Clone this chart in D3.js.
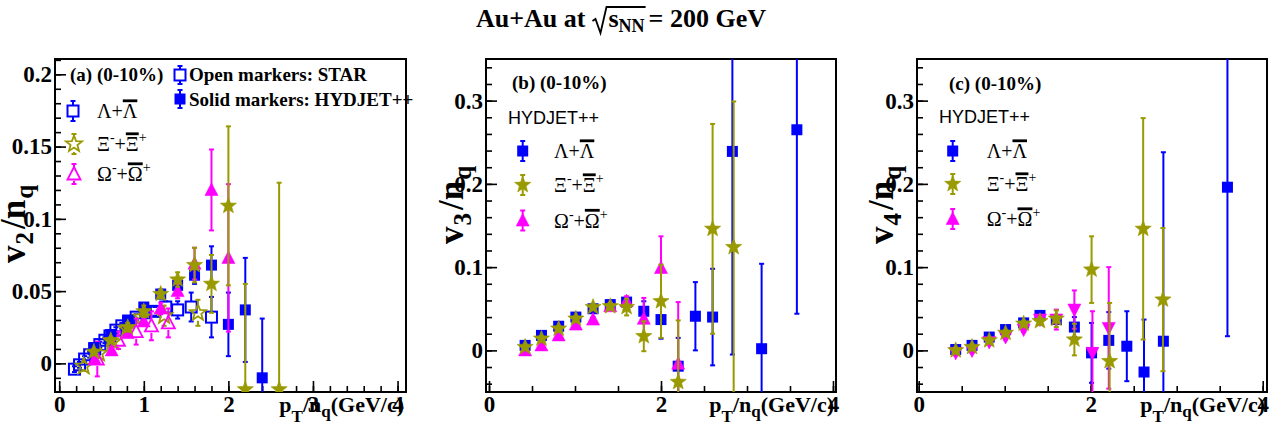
<!DOCTYPE html>
<meta charset="utf-8">
<style>
  body { margin: 0; background: #fff; }
</style>
<body>
<script src="https://d3js.org/d3.v7.min.js"></script>
<script>
  // ---- data: [pT/nq, v_n/nq, error] ----
  // (a) v2, STAR (open markers)
  var v2LamStar = [[0.18,-0.004,0.002],[0.24,-0.001,0.002],[0.30,0.003,0.002],[0.36,0.006,0.002],[0.42,0.010,0.002],
                   [0.48,0.013,0.002],[0.54,0.016,0.002],[0.60,0.019,0.002],[0.67,0.023,0.002],[0.74,0.026,0.002],
                   [0.82,0.029,0.002],[0.91,0.032,0.002],[1.02,0.035,0.003],[1.13,0.036,0.003],[1.26,0.039,0.004],
                   [1.40,0.037,0.006],[1.56,0.039,0.010],[1.80,0.032,0.014]];
  var v2XiStar  = [[0.29,-0.002,0.003],[0.47,0.007,0.003],[0.63,0.015,0.003],[0.80,0.024,0.004],[0.97,0.032,0.005],
                   [1.24,0.033,0.007],[1.64,0.035,0.009]];
  var v2OmStar  = [[0.45,0.003,0.012],[0.70,0.016,0.006],[0.91,0.022,0.009],[1.09,0.026,0.010],[1.29,0.028,0.010]];
  // (a) v2, HYDJET++ (solid markers)
  var v2LamHyd = [[0.41,0.011,0.002],[0.61,0.020,0.002],[0.81,0.030,0.002],[1.00,0.039,0.002],[1.20,0.048,0.003],
                  [1.40,0.054,0.004],[1.60,0.061,0.006],[1.80,0.068,0.013],[2.00,0.027,0.022],[2.20,0.037,0.036],
                  [2.40,-0.010,0.041]];
  var v2XiHyd  = [[0.41,0.008,0.002],[0.61,0.016,0.002],[0.81,0.025,0.003],[1.00,0.036,0.004],[1.20,0.048,0.003],
                  [1.40,0.058,0.005],[1.60,0.068,0.012],[1.80,0.055,0.020],[2.00,0.109,0.055],[2.20,-0.018,0.073],
                  [2.60,-0.018,0.143]];
  var v2OmHyd  = [[0.42,0.003,0.003],[0.62,0.009,0.002],[0.81,0.021,0.002],[1.00,0.029,0.003],[1.20,0.038,0.004],
                  [1.40,0.050,0.005],[1.60,0.069,0.011],[1.80,0.120,0.028],[2.00,0.073,0.051]];
  // (b) v3, HYDJET++
  var v3LamHyd = [[0.42,0.006,0.003],[0.61,0.018,0.003],[0.81,0.029,0.003],[1.01,0.040,0.003],[1.21,0.050,0.003],
                  [1.41,0.055,0.004],[1.60,0.058,0.005],[1.80,0.047,0.012],[2.00,0.037,0.023],[2.20,-0.019,0.034],
                  [2.40,0.041,0.041],[2.60,0.040,0.058],[2.83,0.239,0.244],[3.17,0.002,0.102],[3.58,0.265,0.221]];
  var v3XiHyd  = [[0.42,0.004,0.003],[0.61,0.014,0.003],[0.81,0.026,0.003],[1.01,0.038,0.003],[1.21,0.052,0.003],
                  [1.41,0.053,0.004],[1.60,0.052,0.010],[1.80,0.017,0.018],[2.00,0.059,0.044],[2.20,-0.038,0.074],
                  [2.60,0.146,0.126],[2.845,0.124,0.175]];
  var v3OmHyd  = [[0.42,0.000,0.003],[0.61,0.006,0.003],[0.81,0.018,0.003],[1.01,0.031,0.003],[1.21,0.037,0.003],
                  [1.41,0.053,0.004],[1.60,0.059,0.006],[1.80,0.038,0.025],[2.00,0.099,0.038],[2.20,-0.016,0.074]];
  // (c) v4, HYDJET++
  var v4LamHyd = [[0.43,0.001,0.003],[0.62,0.006,0.003],[0.82,0.016,0.003],[1.01,0.025,0.003],[1.22,0.033,0.003],
                  [1.41,0.042,0.003],[1.60,0.037,0.005],[1.81,0.028,0.012],[2.01,-0.003,0.036],[2.21,0.012,0.034],
                  [2.42,0.005,0.042],[2.62,-0.026,0.063],[2.845,0.011,0.227],[3.59,0.196,0.179]];
  var v4XiHyd  = [[0.43,0.000,0.003],[0.62,0.004,0.003],[0.82,0.012,0.003],[1.01,0.021,0.003],[1.22,0.032,0.003],
                  [1.41,0.035,0.004],[1.60,0.038,0.010],[1.81,0.013,0.019],[2.01,0.097,0.040],[2.22,-0.013,0.070],
                  [2.61,0.146,0.133],[2.84,0.061,0.086]];
  var v4OmHyd  = [[0.43,-0.003,0.003],[0.62,0.000,0.003],[0.82,0.010,0.003],[1.01,0.016,0.003],[1.22,0.025,0.003],
                  [1.41,0.037,0.003],[1.60,0.037,0.012],[1.81,0.049,0.023],[2.02,-0.003,0.050],[2.21,0.027,0.073]];

  // tick labels
  var v2Ticks = [0, 0.05, 0.1, 0.15, 0.2], v2TickLabels = ["0", "0.05", "0.1", "0.15", "0.2"];
  var vnTicks = [0, 0.1, 0.2, 0.3],        vnTickLabels = ["0", "0.1", "0.2", "0.3"];
  var xTicksA = [0, 1, 2, 3, 4], xTicksBC = [0, 2, 4];

  var BLUE = "#0000ff", OLIVE = "#999900", MAG = "#ff00ff";
  var SERIF = "'Liberation Serif','Times New Roman',serif";
  var SANS = "'Liberation Sans',Arial,sans-serif";

  var svg = d3.select("body").append("svg")
          .attr("width", 1282)
          .attr("height", 434);

  // text made of pieces (sub/superscripts, overlines)
  function rich(g, x, y, parts, anchor) {
    var grp = g.append("g"), cx = 0;
    parts.forEach(function(p) {
      var dx = p.dx || 0, dy = p.dy || 0;
      var t = grp.append("text")
              .attr("x", cx + dx).attr("y", dy)
              .attr("font-family", p.f || SERIF)
              .attr("font-size", p.fs)
              .attr("font-weight", p.b ? "bold" : "normal")
              .text(p.t);
      var w = t.node().getComputedTextLength();
      if (p.bar) {
        grp.append("rect").attr("x", cx + dx).attr("y", dy - p.fs * 0.93)
           .attr("width", w).attr("height", p.fs * 0.14).attr("fill", "#000");
      }
      cx += dx + w;
    });
    var off = anchor === "end" ? -cx : (anchor === "middle" ? -cx / 2 : 0);
    grp.attr("transform", "translate(" + (x + off) + "," + y + ")");
    return grp;
  }

  // ---- title ----
  var title = svg.append("g");
  var tx = 0;
  function tpart(s, fs, dy) {
    var t = title.append("text").attr("x", tx).attr("y", dy)
            .attr("font-family", SERIF).attr("font-size", fs).attr("font-weight", "bold").text(s);
    tx += t.node().getComputedTextLength();
  }
  tpart("Au+Au at", 26, 0);
  tx += 7;
  var rx = tx;
  tx += 16;
  tpart("s", 26, 0);
  tpart("NN", 18, 5);
  var rEnd = tx + 1;
  title.append("path")
       .attr("d", "M" + rx + ",-6L" + (rx + 3) + ",-8L" + (rx + 8) + ",6L" + (rx + 14) + ",-20L" + rEnd + ",-20")
       .attr("fill", "none").attr("stroke", "#000").attr("stroke-width", 1.8);
  tx += 4;
  tpart("= 200 GeV", 26, 0);
  title.attr("transform", "translate(" + (621 - tx / 2) + ",27)");

  // ---- markers ----
  function starPath(cx, cy, R) {
    var r = R * 0.42, pts = [];
    for (var i = 0; i < 10; i++) {
      var a = -Math.PI / 2 + i * Math.PI / 5, rr = i % 2 ? r : R;
      pts.push([cx + rr * Math.cos(a), cy + rr * Math.sin(a)]);
    }
    return "M" + pts.join("L") + "Z";
  }
  var halfH = {osq: 6, ostar: 8, otri: 7};
  function marker(g, kind, cx, cy, col) {
    if (kind === "sq") {
      g.append("rect").attr("x", cx - 5.5).attr("y", cy - 5.5).attr("width", 11).attr("height", 11).attr("fill", col);
    } else if (kind === "osq") {
      g.append("rect").attr("x", cx - 5.5).attr("y", cy - 5.5).attr("width", 11).attr("height", 11)
       .attr("fill", "none").attr("stroke", col).attr("stroke-width", 2);
    } else if (kind === "star" || kind === "ostar") {
      g.append("path").attr("d", starPath(cx, cy, 8.5))
       .attr("fill", kind === "star" ? col : "none").attr("stroke", col).attr("stroke-width", kind === "star" ? 0.6 : 1.8);
    } else if (kind === "tri" || kind === "otri") {
      g.append("path").attr("d", "M" + cx + "," + (cy - 7) + "L" + (cx + 6.5) + "," + (cy + 5.5) + "L" + (cx - 6.5) + "," + (cy + 5.5) + "Z")
       .attr("fill", kind === "tri" ? col : "none").attr("stroke", col).attr("stroke-width", kind === "tri" ? 0.6 : 1.8);
    } else if (kind === "tridn") {
      g.append("path").attr("d", "M" + cx + "," + (cy + 7) + "L" + (cx + 6.5) + "," + (cy - 5.5) + "L" + (cx - 6.5) + "," + (cy - 5.5) + "Z")
       .attr("fill", col).attr("stroke", col).attr("stroke-width", 0.6);
    }
  }
  function vline(g, x, y1, y2, col) {
    if (y2 - y1 <= 0) return;
    g.append("line").attr("x1", x).attr("x2", x).attr("y1", y1).attr("y2", y2)
     .attr("stroke", col).attr("stroke-width", 2);
  }
  function cap(g, x, y, col) {
    g.append("line").attr("x1", x - 2.5).attr("x2", x + 2.5).attr("y1", y).attr("y2", y)
     .attr("stroke", col).attr("stroke-width", 2);
  }
  // marker with error bar (pixel coords)
  function point(g, kind, px, py, yt, yb, col) {
    var hh = halfH[kind];
    if (hh) {
      vline(g, px, yt, py - hh, col);
      vline(g, px, py + hh, yb, col);
    } else {
      vline(g, px, yt, yb, col);
    }
    cap(g, px, yt, col);
    cap(g, px, yb, col);
    marker(g, kind, px, py, col);
  }
  function series(g, data, kind, col, x, y) {
    data.forEach(function(d) {
      point(g, kind, x(d[0]), y(d[1]), y(d[1] + d[2]), y(d[1] - d[2]), col);
    });
  }

  // ---- panels ----
  var panels = [
    {id: "a", x0: 55, x1: 406, xd: [-0.05, 4.1], yd: [-0.0198, 0.2106],
     yt: v2Ticks, yl: v2TickLabels, ymin: 0.01, xt: xTicksA, xmin: 0.2, n: "2", tX: 25, tY: 224},
    {id: "b", x0: 486, x1: 836, xd: [-0.035, 4.035], yd: [-0.05, 0.35],
     yt: vnTicks, yl: vnTickLabels, ymin: 0.02, xt: xTicksBC, xmin: 0.5, n: "3", tX: 463, tY: 205},
    {id: "c", x0: 917, x1: 1267, xd: [-0.02, 4.05], yd: [-0.05, 0.35],
     yt: vnTicks, yl: vnTickLabels, ymin: 0.02, xt: xTicksBC, xmin: 0.5, n: "4", tX: 893, tY: 205}
  ];
  var frameTop = 59, frameBottom = 392;

  panels.forEach(function(p) {
    p.x = d3.scaleLinear().domain(p.xd).range([p.x0, p.x1]);
    p.y = d3.scaleLinear().domain(p.yd).range([frameBottom, frameTop]);
    var g = svg.append("g").attr("class", "panel-" + p.id);

    svg.append("clipPath").attr("id", "clip-" + p.id)
       .append("rect").attr("x", p.x0).attr("y", frameTop).attr("width", p.x1 - p.x0).attr("height", frameBottom - frameTop);

    // minor ticks
    var yMinor = d3.range(Math.ceil(p.yd[0] / p.ymin) * p.ymin, p.yd[1], p.ymin);
    var xMinor = d3.range(0, 4.001, p.xmin);
    g.append("g").attr("transform", "translate(" + p.x0 + ",0)")
     .call(d3.axisLeft(p.y).tickValues(yMinor).tickSize(-6).tickFormat(""));
    g.append("g").attr("transform", "translate(0," + frameBottom + ")")
     .call(d3.axisBottom(p.x).tickValues(xMinor).tickSize(-6).tickFormat(""));

    // major ticks + labels
    g.append("g").attr("class", "yaxis").attr("transform", "translate(" + p.x0 + ",0)")
     .call(d3.axisLeft(p.y).tickValues(p.yt).tickSize(-11).tickPadding(3)
             .tickFormat(function(d, i) { return p.yl[i]; }));
    g.append("g").attr("class", "xaxis").attr("transform", "translate(0," + frameBottom + ")")
     .call(d3.axisBottom(p.x).tickValues(p.xt).tickSize(-11).tickPadding(4).tickFormat(d3.format("d")));

    g.selectAll(".domain").remove();
    g.selectAll(".tick line").attr("stroke", "#000").attr("stroke-width", 1.6);
    g.selectAll(".tick text").attr("font-family", SERIF).attr("font-size", 23)
     .attr("font-weight", "bold").attr("fill", "#000");

    // frame
    g.append("rect").attr("x", p.x0).attr("y", frameTop).attr("width", p.x1 - p.x0).attr("height", frameBottom - frameTop)
     .attr("fill", "none").attr("stroke", "#000").attr("stroke-width", 2);

    // x title
    rich(g, p.x1 - 2, 412, [
      {t: "p", fs: 22, b: 1}, {t: "T", fs: 17, b: 1, dy: 10},
      {t: "/n", fs: 22, b: 1}, {t: "q", fs: 17, b: 1, dy: 5},
      {t: "(GeV/c)", fs: 22, b: 1}], "end");

    // y title
    var yg = svg.append("g").attr("transform", "translate(" + p.tX + "," + p.tY + ") rotate(-90)");
    rich(yg, 0, 0, [
      {t: "v", fs: 35, b: 1}, {t: p.n, fs: 25, b: 1, dy: 8, dx: 1},
      {t: "/", fs: 35, b: 1, dx: 3}, {t: "n", fs: 35, b: 1}, {t: "q", fs: 25, b: 1, dy: 8, dx: 1}], "middle");

    p.plot = svg.append("g").attr("clip-path", "url(#clip-" + p.id + ")");
  });

  var A = panels[0], B = panels[1], C = panels[2];

  // data marks
  series(A.plot, v2LamStar, "osq", BLUE, A.x, A.y);
  series(A.plot, v2XiStar, "ostar", OLIVE, A.x, A.y);
  series(A.plot, v2OmStar, "otri", MAG, A.x, A.y);
  series(A.plot, v2LamHyd, "sq", BLUE, A.x, A.y);
  series(A.plot, v2OmHyd, "tri", MAG, A.x, A.y);
  series(A.plot, v2XiHyd, "star", OLIVE, A.x, A.y);

  series(B.plot, v3LamHyd, "sq", BLUE, B.x, B.y);
  series(B.plot, v3OmHyd, "tri", MAG, B.x, B.y);
  series(B.plot, v3XiHyd, "star", OLIVE, B.x, B.y);

  series(C.plot, v4LamHyd, "sq", BLUE, C.x, C.y);
  series(C.plot, v4OmHyd, "tridn", MAG, C.x, C.y);
  series(C.plot, v4XiHyd, "star", OLIVE, C.x, C.y);

  // ---- legends ----
  var lamLabel = [{t: "Λ+", fs: 20}, {t: "Λ", fs: 20, bar: 1}];
  var xiLabel = [{t: "Ξ", fs: 20}, {t: "-", fs: 14, dy: -9}, {t: "+", fs: 20},
                 {t: "Ξ", fs: 20, bar: 1}, {t: "+", fs: 14, dy: -9}];
  var omLabel = [{t: "Ω", fs: 20}, {t: "-", fs: 14, dy: -9}, {t: "+", fs: 20},
                 {t: "Ω", fs: 20, bar: 1}, {t: "+", fs: 14, dy: -9}];

  function entry(kind, col, mx, my, tx0, label) {
    point(svg, kind, mx, my, my - 10, my + 10, col);
    rich(svg, tx0, my + 7, label, "start");
  }

  // (a)
  rich(svg, 70, 81, [{t: "(a) (0-10%)", fs: 19, b: 1}], "start");
  point(svg, "osq", 180, 75, 66, 84, BLUE);
  rich(svg, 189, 81, [{t: "Open markers: STAR", fs: 19, b: 1}], "start");
  point(svg, "sq", 180, 99, 90, 108, BLUE);
  rich(svg, 189, 105.5, [{t: "Solid markers: HYDJET++", fs: 19, b: 1}], "start");
  entry("osq", BLUE, 73, 111, 97, lamLabel);
  entry("ostar", OLIVE, 74, 144, 97, xiLabel);
  entry("otri", MAG, 74, 174, 97, omLabel);

  // (b)
  rich(svg, 512, 89, [{t: "(b) (0-10%)", fs: 19, b: 1}], "start");
  rich(svg, 508, 124, [{t: "HYDJET++", fs: 18, f: SANS}], "start");
  entry("sq", BLUE, 522.7, 151, 554, lamLabel);
  entry("star", OLIVE, 522.7, 185, 554, xiLabel);
  entry("tri", MAG, 522.7, 220.5, 554, omLabel);

  // (c)
  rich(svg, 949, 90, [{t: "(c) (0-10%)", fs: 19, b: 1}], "start");
  rich(svg, 939, 123, [{t: "HYDJET++", fs: 18, f: SANS}], "start");
  entry("sq", BLUE, 952.7, 151, 986.7, lamLabel);
  entry("star", OLIVE, 952.7, 184, 986.7, xiLabel);
  entry("tri", MAG, 952.7, 219, 986.7, omLabel);
</script>
</body>
